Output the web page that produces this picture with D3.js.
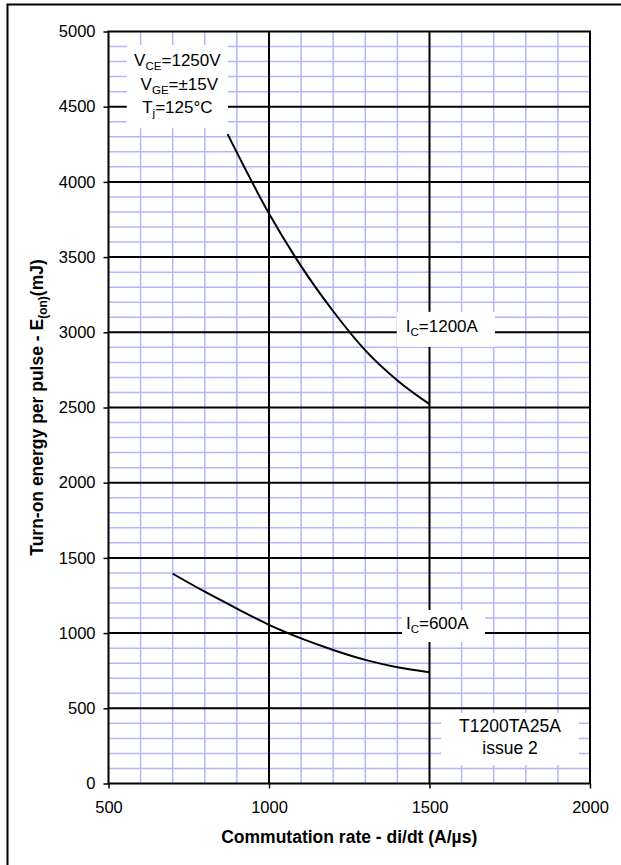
<html>
    <head>
        <style>
            body { margin: 0; background: #fff; }
            text { font-family: Arial, "Liberation Sans", sans-serif; fill: #000; }
            .minor { stroke: #b4b4ff; stroke-width: 1.5; }
            .major { stroke: #000; stroke-width: 2; }
            .curve { fill: none; stroke: #000; stroke-width: 2; }
            .tick text { font-size: 16.5px; }
        </style>
    </head>
    <body>
        <svg id="container" width="621" height="865"></svg>
    </body>
    <script src="https://d3js.org/d3.v7.min.js" charset="utf-8"></script>
    <script>
        // axis ticks
        let xTicks = [500, 1000, 1500, 2000]
        let yTicks = [0, 500, 1000, 1500, 2000, 2500, 3000, 3500, 4000, 4500, 5000]

        // Ic = 1200A
        let didt1200 = [871, 1000, 1100, 1200, 1300, 1400, 1500]
        let eon1200  = [4318, 3790, 3440, 3140, 2880, 2680, 2522]

        // Ic = 600A
        let didt600 = [700, 800, 900, 1000, 1100, 1200, 1300, 1400, 1500]
        let eon600  = [1395, 1275, 1163, 1055, 965, 888, 822, 773, 740]

        let svg = d3.select("#container")

        let plotL = 108.5, plotR = 590, plotT = 31.5, plotB = 783.5

        let x = d3.scaleLinear().domain([500, 2000]).range([plotL, plotR])
        let y = d3.scaleLinear().domain([0, 5000]).range([plotB, plotT])

        // outer frame (only top and left visible)
        svg.append("path")
            .attr("d", "M7.5,865 V4.5 H621")
            .attr("fill", "none")
            .attr("stroke", "#000")
            .attr("stroke-width", 2)

        // minor grid every 100
        let minorX = d3.range(600, 2000, 100).filter(d => d % 500 != 0)
        let minorY = d3.range(100, 5000, 100).filter(d => d % 500 != 0)

        let grid = svg.append("g")
        grid.selectAll(".mx").data(minorX).enter().append("line")
            .attr("class", "minor")
            .attr("x1", d => x(d)).attr("x2", d => x(d))
            .attr("y1", plotT).attr("y2", plotB)
        grid.selectAll(".my").data(minorY).enter().append("line")
            .attr("class", "minor")
            .attr("y1", d => y(d)).attr("y2", d => y(d))
            .attr("x1", plotL).attr("x2", plotR)

        // major grid
        grid.selectAll(".Mx").data(xTicks.slice(1, -1)).enter().append("line")
            .attr("class", "major")
            .attr("x1", d => x(d)).attr("x2", d => x(d))
            .attr("y1", plotT).attr("y2", plotB)
        grid.selectAll(".My").data(yTicks.slice(1, -1)).enter().append("line")
            .attr("class", "major")
            .attr("y1", d => y(d)).attr("y2", d => y(d))
            .attr("x1", plotL).attr("x2", plotR)

        // white label boxes over the grid
        function box(x0, x1, y0, y1) {
            svg.append("rect")
                .attr("x", x(x0)).attr("y", y(y0))
                .attr("width", x(x1) - x(x0))
                .attr("height", y(y1) - y(y0))
                .attr("fill", "#fff")
        }
        box(557, 872, 4911, 4360)
        box(1398, 1704, 3136, 2903)
        box(1414, 1673, 1154, 941)
        box(1536, 1966, 469, 123)

        // curves
        let line = d3.line()
            .x(d => x(d[0]))
            .y(d => y(d[1]))
            .curve(d3.curveMonotoneX)

        svg.append("path")
            .attr("class", "curve")
            .attr("d", line(d3.zip(didt1200, eon1200)))
        svg.append("path")
            .attr("class", "curve")
            .attr("d", line(d3.zip(didt600, eon600)))

        // plot frame
        svg.append("rect")
            .attr("x", plotL).attr("y", plotT)
            .attr("width", plotR - plotL).attr("height", plotB - plotT)
            .attr("fill", "none")
            .attr("stroke", "#000")
            .attr("stroke-width", 2)

        // axes
        svg.append("g")
            .attr("transform", `translate(0,${plotB})`)
            .call(d3.axisBottom(x).tickValues(xTicks).tickFormat(d3.format("d"))
                .tickSize(5).tickPadding(13))
        svg.append("g")
            .attr("transform", `translate(${plotL},0)`)
            .call(d3.axisLeft(y).tickValues(yTicks).tickFormat(d3.format("d"))
                .tickSize(5).tickPadding(8))
        svg.selectAll(".domain").remove()
        svg.selectAll(".tick line").attr("stroke", "#000").attr("stroke-width", 1.5)
        svg.selectAll(".tick text").attr("fill", "#000")
            .style("font-family", "Arial, 'Liberation Sans', sans-serif")

        // text with subscript
        function label(tx, ty, parts, size, anchor) {
            let t = svg.append("text")
                .attr("x", tx).attr("y", ty)
                .attr("text-anchor", anchor || "middle")
                .style("font-size", size + "px")
            parts.forEach(p => {
                let s = t.append("tspan").text(p[0])
                if (p[1] == "sub") s.attr("dy", 4).style("font-size", (size * 0.68) + "px")
                if (p[1] == "back") s.attr("dy", -4)
            })
            return t
        }

        let cx = (x(557) + x(872)) / 2
        label(cx, 66, [["V"], ["CE", "sub"], ["=1250V", "back"]], 17)
        label(cx + 2, 90, [["V"], ["GE", "sub"], ["=±15V", "back"]], 17)
        label(cx, 113, [["T"], ["j", "sub"], ["=125°C", "back"]], 17)

        label(x(1398) + 9, 332, [["I"], ["C", "sub"], ["=1200A", "back"]], 17, "start")
        label(x(1414) + 4, 629, [["I"], ["C", "sub"], ["=600A", "back"]], 17, "start")

        label(510, 732, [["T1200TA25A"]], 17.5)
        label(510, 754, [["issue 2"]], 17.5)

        // axis titles
        svg.append("text")
            .attr("x", (plotL + plotR) / 2).attr("y", 843)
            .attr("text-anchor", "middle")
            .style("font-size", "17.5px").style("font-weight", "bold")
            .text("Commutation rate - di/dt (A/µs)")

        let yl = svg.append("text")
            .attr("transform", `translate(43,${(plotT + plotB) / 2}) rotate(-90)`)
            .attr("text-anchor", "middle")
            .style("font-size", "17.5px").style("font-weight", "bold")
        yl.append("tspan").text("Turn-on energy per pulse - E")
        yl.append("tspan").text("(on)").attr("dy", 4).style("font-size", "12px")
        yl.append("tspan").text("(mJ)").attr("dy", -4)
    </script>
</html>
